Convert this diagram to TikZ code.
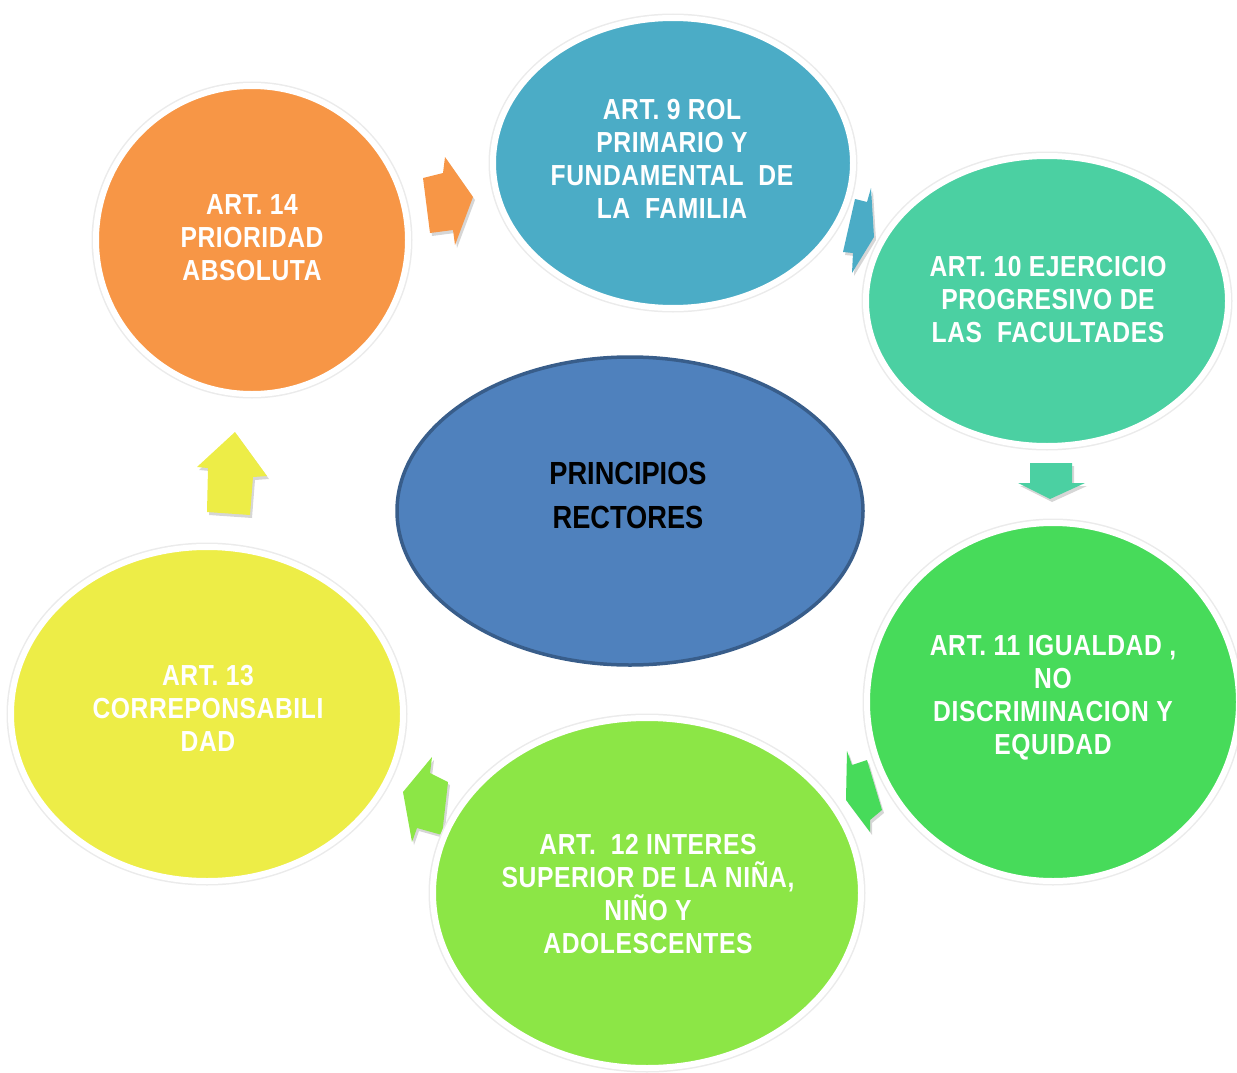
\documentclass[tikz,border=0pt]{standalone}
\usepackage{fontspec}
\newfontfamily\wfont{Liberation Sans}[FakeStretch=0.85,LetterSpace=2]
\newfontfamily\cfont{Liberation Sans}[FakeStretch=0.85]
\usetikzlibrary{shapes.geometric}
\definecolor{corange}{HTML}{F79646}
\definecolor{caqua}{HTML}{4BACC6}
\definecolor{cteal}{HTML}{4BD0A2}
\definecolor{cgreen}{HTML}{47DB5A}
\definecolor{clime}{HTML}{8CE646}
\definecolor{cyellow}{HTML}{EDED47}
\definecolor{cblue}{HTML}{4F81BD}
\definecolor{cbluedark}{HTML}{385D8A}
\definecolor{shadowc}{HTML}{D6D6D6}
\newcommand{\barrow}[2]{\fill[shadowc, shift={(2,3)}] #2 -- cycle; \fill[#1] #2 -- cycle;}
\begin{document}
\begin{tikzpicture}[x=1pt,y=-1pt,
  circ/.style={ellipse, inner sep=0pt, fill=#1, draw=white, line width=6pt,
    preaction={draw=black!8, line width=9pt}},
  wtext/.style={text=white, align=center, font=\wfont\bfseries\fontsize{29}{33}\selectfont},
  ctext/.style={text=black, align=center, font=\cfont\bfseries\fontsize{32}{44}\selectfont}]
\useasboundingbox (0,0) rectangle (1237,1073);
% block arrows (drawn first, behind circles)
\barrow{corange}{(423,178) -- (443,173) -- (445,157) -- (473,197) -- (455,245) -- (453,230) -- (430,233)}
\barrow{caqua}{(855,199) -- (867,202) -- (871,188) -- (874,237) -- (852,273) -- (853,253) -- (843,252)}
\barrow{cteal}{(1030,463) -- (1072,463) -- (1072,483) -- (1085,483) -- (1050,499) -- (1018,483) -- (1030,483)}
\barrow{cgreen}{(847,751) -- (852,765) -- (867,760) -- (882,810) -- (870,820) -- (870,832) -- (846,800)}
\barrow{clime}{(432,757) -- (430,773) -- (448,782) -- (442,835) -- (417,828) -- (412,842) -- (403,792)}
\barrow{cyellow}{(235,432) -- (267,476) -- (253,477) -- (250,515) -- (207,512) -- (208,468) -- (197,467)}
% circles
\node[circ=corange, minimum width=312pt, minimum height=308pt] (c14) at (252,240) {};
\node[circ=caqua, minimum width=360pt, minimum height=290pt] (c9) at (673,163) {};
\node[circ=cteal, minimum width=362pt, minimum height=290pt] (c10) at (1047,301) {};
\node[circ=cgreen, minimum width=372pt, minimum height=358pt] (c11) at (1053,702) {};
\node[circ=clime, minimum width=428pt, minimum height=350pt] (c12) at (647,893) {};
\node[circ=cyellow, minimum width=392pt, minimum height=334pt] (c13) at (207,714) {};
\node[ellipse, inner sep=0pt, fill=cblue, draw=cbluedark, line width=3.5pt,
  minimum width=466pt, minimum height=308pt] (ctr) at (630,511) {};
% texts
\node[wtext] (t14) at (252,238) {ART. 14\\PRIORIDAD\\ABSOLUTA};
\node[wtext] (t9) at (672,159) {ART.\ 9 ROL\\PRIMARIO Y\\FUNDAMENTAL\ \ DE\\LA\ \ FAMILIA};
\node[wtext] (t10) at (1048,300) {ART.\ 10 EJERCICIO\\PROGRESIVO DE\\LAS\ \ FACULTADES};
\node[wtext] (t11) at (1053,698) {ART.\ 11 IGUALDAD ,\\NO\\DISCRIMINACION Y\\EQUIDAD};
\node[wtext] (t12) at (648,894) {ART.\ \ 12 INTERES\\SUPERIOR DE LA NIÑA,\\NIÑO Y\\ADOLESCENTES};
\node[wtext] (t13) at (208,708) {ART.\ 13\\CORREPONSABILI\\DAD};
\node[ctext] (tc) at (628,495) {PRINCIPIOS\\RECTORES};
\end{tikzpicture}
\end{document}
